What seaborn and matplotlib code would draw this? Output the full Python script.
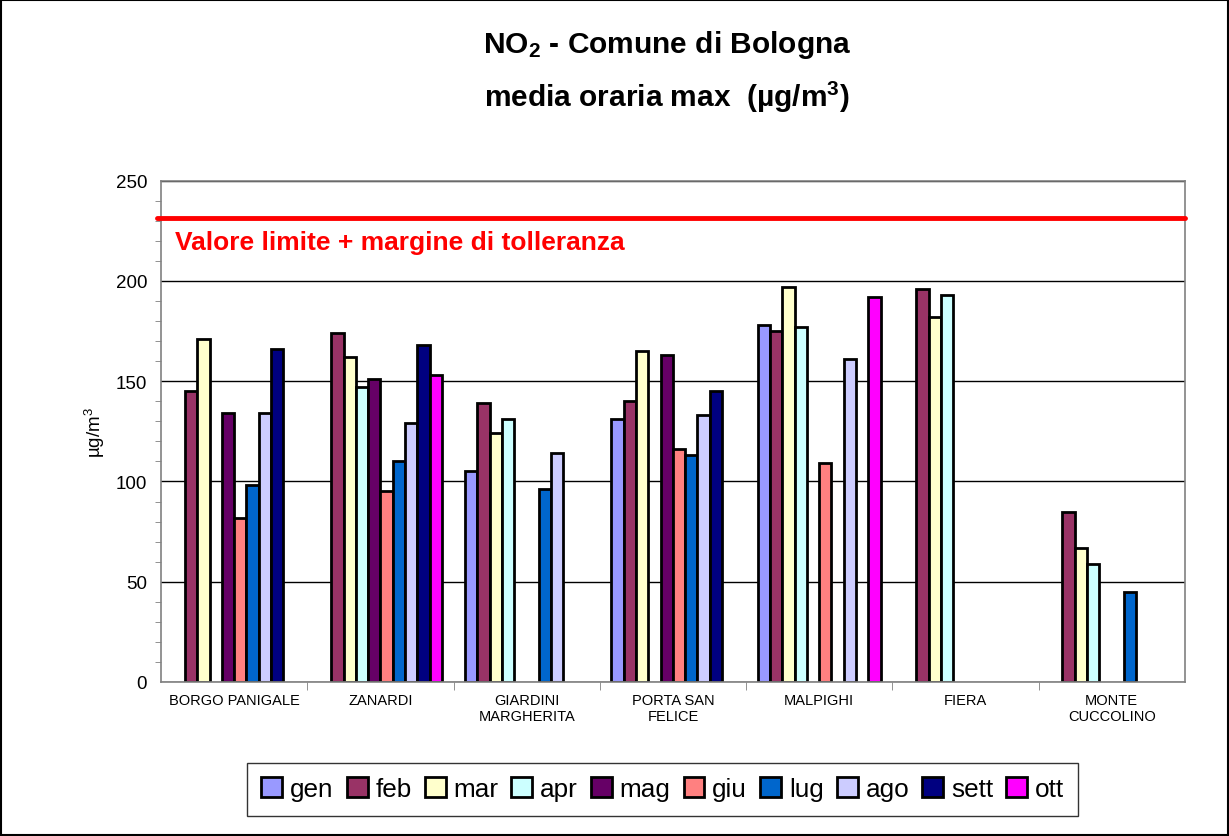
import numpy as np
import pandas as pd
import matplotlib
matplotlib.use("Agg")
import matplotlib.pyplot as plt
from matplotlib.ticker import MultipleLocator
import seaborn as sns

stations = ["BORGO PANIGALE", "ZANARDI", "GIARDINI\nMARGHERITA", "PORTA SAN\nFELICE",
            "MALPIGHI", "FIERA", "MONTE\nCUCCOLINO"]
months = ["gen", "feb", "mar", "apr", "mag", "giu", "lug", "ago", "sett", "ott"]
nan = np.nan
gen  = [nan, nan, 105, 131, 178, nan, nan]
feb  = [145, 174, 139, 140, 175, 196, 85]
mar  = [171, 162, 124, 165, 197, 182, 67]
apr  = [nan, 147, 131, nan, 177, 193, 59]
mag  = [134, 151, nan, 163, nan, nan, nan]
giu  = [82, 95, nan, 116, 109, nan, nan]
lug  = [98, 110, 96, 113, nan, nan, 45]
ago  = [134, 129, 114, 133, 161, nan, nan]
sett = [166, 168, nan, 145, nan, nan, nan]
ott  = [nan, 153, nan, nan, 192, nan, nan]
limit_value = 231.5

colors = ["#9999FF", "#993366", "#FFFFCC", "#CCFFFF", "#660066",
          "#FF8080", "#0066CC", "#CCCCFF", "#000080", "#FF00FF"]

series = [gen, feb, mar, apr, mag, giu, lug, ago, sett, ott]
rows = []
for m, vals in zip(months, series):
    for s, v in zip(stations, vals):
        rows.append({"station": s, "month": m, "value": v})
df = pd.DataFrame(rows)

sns.set_style("white")
plt.rcParams["font.family"] = ["Liberation Sans", "DejaVu Sans"]
plt.rcParams["mathtext.fontset"] = "custom"
plt.rcParams["mathtext.rm"] = "Liberation Sans"
plt.rcParams["mathtext.it"] = "Liberation Sans:italic"
plt.rcParams["mathtext.bf"] = "Liberation Sans:bold"
plt.rcParams["text.color"] = "black"
plt.rcParams["axes.labelcolor"] = "black"
plt.rcParams["xtick.color"] = "black"
plt.rcParams["ytick.color"] = "black"

fig = plt.figure(figsize=(12.29, 8.37), dpi=100)
ax = fig.add_axes([0.131, 0.184, 0.833, 0.599])

sns.barplot(data=df, x="station", y="value", hue="month", order=stations,
            hue_order=months, palette=colors, width=0.84, dodge=True,
            edgecolor="black", linewidth=2, saturation=1, ax=ax, legend=True)

ax.set_ylim(0, 250)
ax.set_xlim(-0.5, len(stations) - 0.5)
ax.yaxis.set_major_locator(MultipleLocator(50))
ax.yaxis.set_minor_locator(MultipleLocator(10))
ax.grid(axis="y", which="major", color="black", linewidth=1)
ax.set_axisbelow(True)
for sp in ax.spines.values():
    sp.set_color("#808080")
    sp.set_linewidth(1.2)
ax.tick_params(axis="y", which="major", direction="out", length=6, labelsize=13.5, color="#808080", pad=4)
ax.tick_params(axis="y", which="minor", direction="out", length=4, color="#808080", left=True)
ax.set_xticks(range(len(stations)))
ax.set_xticklabels(stations, fontsize=10.5, va="top")
ax.tick_params(axis="x", which="major", length=0, pad=8)
ax.set_xticks(np.arange(0.5, len(stations) - 0.5, 1), minor=True)
ax.tick_params(axis="x", which="minor", direction="out", length=6, color="#808080", bottom=True)
ax.set_xlabel("")
ax.set_ylabel("µg/m$^3$", fontsize=13.5, labelpad=6)

ax.axhline(limit_value, xmin=-0.004, xmax=1.0, color="#FF0000", linewidth=3.5, zorder=5, clip_on=False)
ax.text(0.014, limit_value - 12, "Valore limite + margine di tolleranza", transform=ax.get_yaxis_transform(),
        color="#FF0000", fontsize=19, fontweight="bold", va="center", ha="left")

fig.text(0.543, 0.946, r"NO$_\mathbf{2}$ - Comune di Bologna", ha="center", va="center",
         fontsize=21.5, fontweight="bold")
fig.text(0.543, 0.884, r"media oraria max  (µg/m$^\mathbf{3}$)", ha="center", va="center",
         fontsize=21.5, fontweight="bold")

leg = ax.legend(loc="center", bbox_to_anchor=(0.49, -0.214), ncol=10, fontsize=18.8,
                frameon=True, fancybox=False, edgecolor="black", handlelength=0.8,
                handleheight=0.8, handletextpad=0.3, columnspacing=0.5, borderpad=0.55)
leg.get_frame().set_linewidth(1)

fig.patches.append(plt.Rectangle((0.001, 0.001), 0.998, 0.998, transform=fig.transFigure,
                                 fill=False, edgecolor="black", linewidth=1.5))

fig.savefig("out.png", dpi=100)
